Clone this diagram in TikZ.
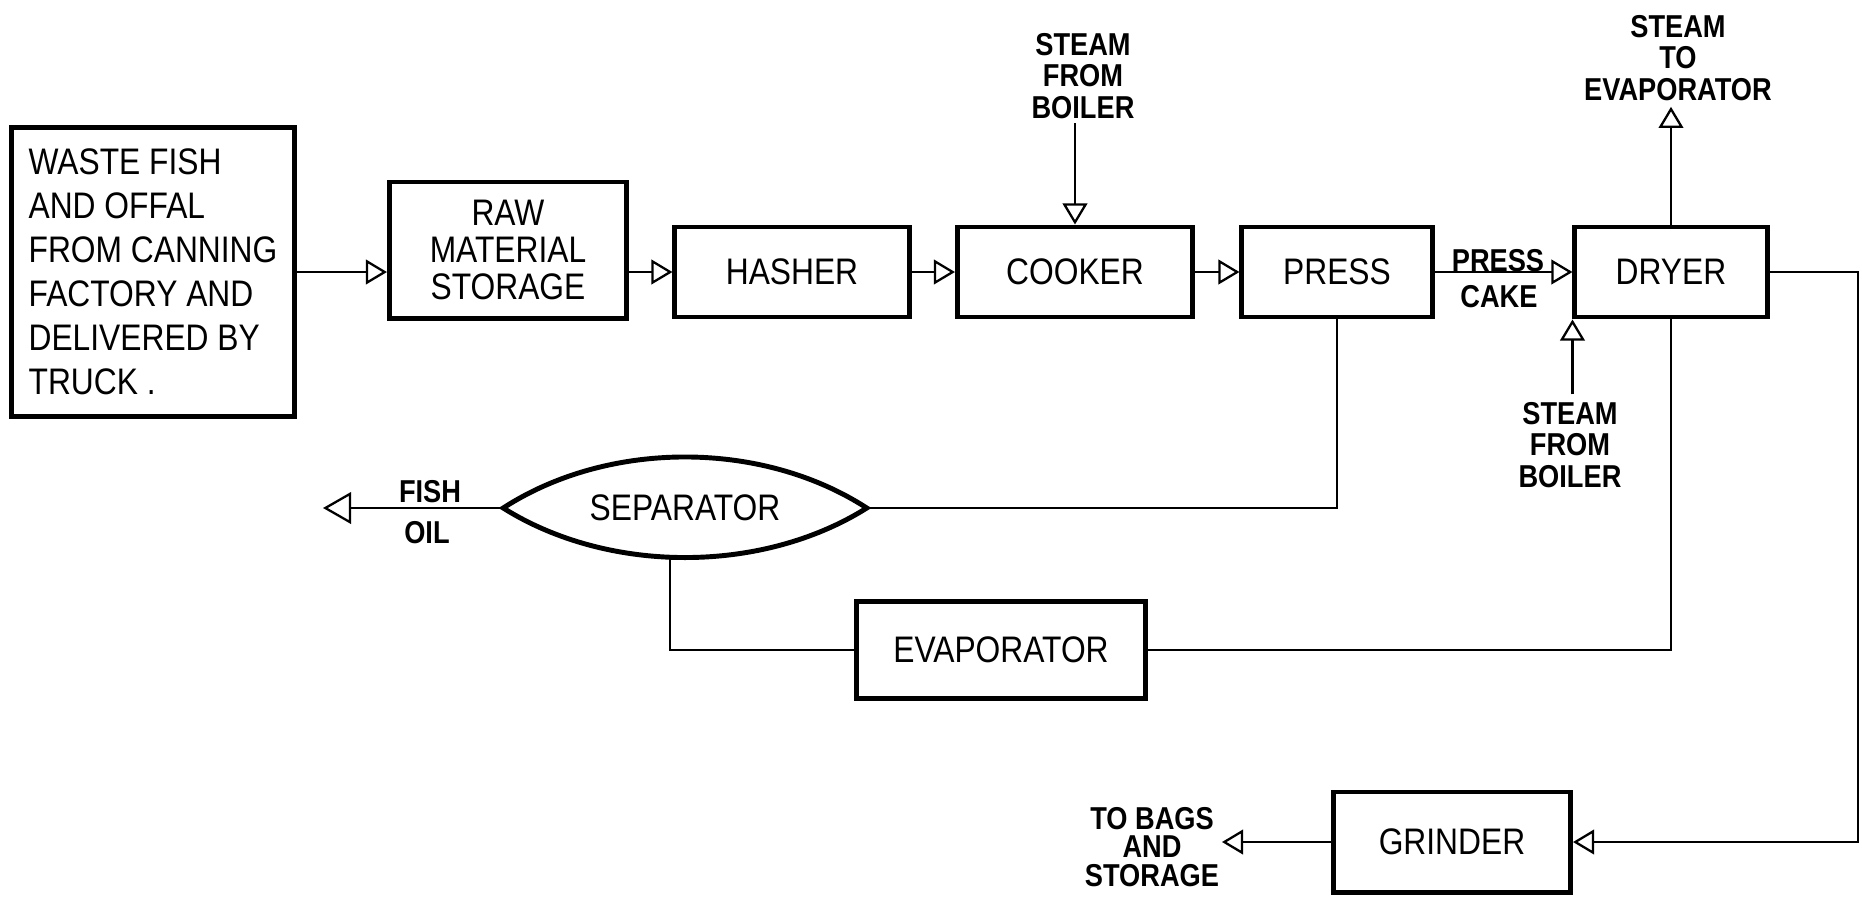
\documentclass[tikz,border=0pt]{standalone}
\usepackage{fontspec}
\setmainfont{Liberation Sans}[FakeStretch=0.86]
\usetikzlibrary{arrows.meta, positioning, calc}

\tikzstyle{unit} = [
  rectangle, draw, line width=1.4pt,
  minimum height=0.90cm, inner sep=2pt, align=center,
  font=\fontsize{10.5}{10.5}\selectfont
]
\tikzstyle{tag} = [align=center, inner sep=0pt, font=\fontsize{9}{9}\selectfont\bfseries]
\tikzstyle{pipe} = [line width=0.65pt]
\tikzstyle{arrow} = [pipe, -{Triangle[open, length=6pt, width=7pt]}]

\begin{document}
\begin{tikzpicture}[x=0.01cm, y=-0.01cm]
  \useasboundingbox (0,0) rectangle (1862,896);

  % Main process line
  \node[unit, minimum width=2.83cm, minimum height=2.88cm, align=left,
        font=\fontsize{10.5}{12.5}\selectfont] (waste) at (153, 272) {
    WASTE FISH\\
    AND OFFAL\\
    FROM CANNING\\
    FACTORY AND\\
    DELIVERED BY\\
    TRUCK .
  };
  \node[unit, minimum width=2.37cm, minimum height=1.36cm] (raw) at (508, 250) {RAW\\MATERIAL\\STORAGE};
  \node[unit, minimum width=2.34cm] (hasher) at (792, 272) {HASHER};
  \node[unit, minimum width=2.35cm] (cooker) at (1075, 272) {COOKER};
  \node[unit, minimum width=1.90cm] (press) at (1337, 272) {PRESS};
  \node[unit, minimum width=1.92cm] (dryer) at (1671, 272) {DRYER};

  % Lower units
  \node[minimum width=3.62cm, minimum height=1.0cm, inner sep=0pt,
        font=\fontsize{10.5}{12}\selectfont] (sep) at (685, 508) {SEPARATOR};
  \draw[line width=1.4pt] (sep.west)
    .. controls ([xshift=1.05cm, yshift=0.68cm]sep.west) and ([xshift=-1.05cm, yshift=0.68cm]sep.east) .. (sep.east)
    .. controls ([xshift=-1.05cm, yshift=-0.66cm]sep.east) and ([xshift=1.05cm, yshift=-0.66cm]sep.west) .. (sep.west) -- cycle;
  \node[unit, minimum width=2.89cm, minimum height=0.97cm] (evap) at (1001, 650) {EVAPORATOR};
  \node[unit, minimum width=2.37cm, minimum height=1.0cm] (grinder) at (1452, 842) {GRINDER};

  % Labels
  \node[tag] (steamA) at (1083, 76) {STEAM\\FROM\\BOILER};
  \node[tag] (steamB) at (1678, 58) {STEAM\\TO\\EVAPORATOR};
  \node[tag] (steamC) at (1570, 445) {STEAM\\FROM\\BOILER};
  \node[tag] (presslbl) at (1498, 261) {PRESS};
  \node[tag] (cakelbl) at (1499, 297) {CAKE};
  \node[tag] (fishlbl) at (430, 492) {FISH};
  \node[tag] (oillbl) at (427, 533) {OIL};
  \node[tag, font=\fontsize{9}{8}\selectfont\bfseries] (bags) at (1152, 847) {TO BAGS\\AND\\STORAGE};

  \coordinate (oilend) at (323, 508);
  \coordinate (bagend) at (1222, 842);
  \coordinate (bend) at (1858, 842);

  % Arrows
  \draw[arrow] (waste.east) -- (waste.east -| raw.west);
  \draw[arrow] (raw.east |- hasher.west) -- (hasher.west);
  \draw[arrow] (hasher) -- (cooker);
  \draw[arrow] (cooker) -- (press);
  \draw[arrow] (press) -- (dryer);
  \draw[arrow] ([yshift=-1pt]cooker.north |- steamA.south) -- (cooker.north);
  \draw[arrow, shorten >=1.5pt] (dryer.north) -- (dryer.north |- steamB.south);
  \draw[arrow] ([yshift=2pt]dryer.south west |- steamC.north) -- (dryer.south west);
  \draw[pipe] (press.south) |- (sep.east);
  \draw[arrow, -{Triangle[open, length=8pt, width=9pt]}] (sep.west) -- (oilend);
  \draw[pipe] ([xshift=-0.15cm]sep.south) |- (evap.west);
  \draw[pipe] (evap.east) -| (dryer.south);
  \draw[arrow] (dryer.east) -| (bend) -- (grinder.east);
  \draw[arrow] (grinder.west) -- (bagend);

\end{tikzpicture}
\end{document}
